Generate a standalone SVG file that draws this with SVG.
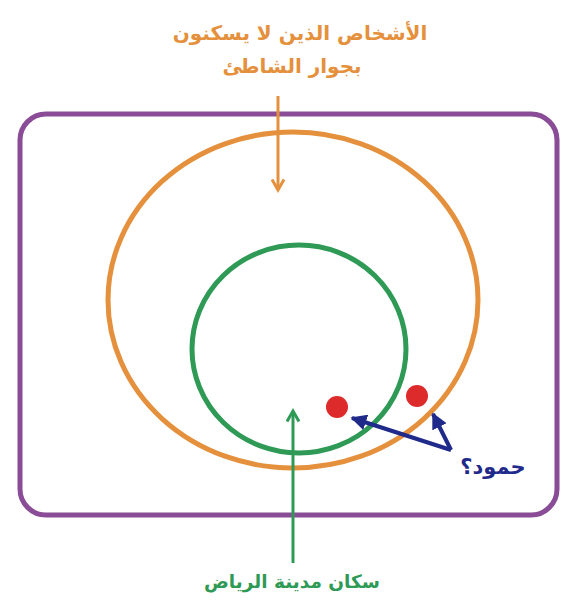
<svg xmlns="http://www.w3.org/2000/svg" width="567" height="602" viewBox="0 0 567 602">
<defs>
<style>
text{font-family:"DejaVu Sans","Noto Sans",sans-serif;font-weight:bold;text-anchor:middle}
.o{fill:#E5903C}
.g{fill:#2E9A55}
.b{fill:#1F2A8A}
</style>
<marker id="ao" viewBox="0 0 10 10" refX="8" refY="5" markerWidth="5" markerHeight="5" orient="auto"><path d="M1,1 L8,5 L1,9" fill="none" stroke="#E5903C" stroke-width="2"/></marker>
<marker id="ag" viewBox="0 0 10 10" refX="8" refY="5" markerWidth="5" markerHeight="5" orient="auto"><path d="M1,1 L8,5 L1,9" fill="none" stroke="#2E9A55" stroke-width="2"/></marker>
<marker id="ab" viewBox="0 0 10 10" refX="9" refY="5" markerWidth="4" markerHeight="4" orient="auto"><path d="M0,0 L10,5 L0,10 z" fill="#1F2A8A"/></marker>
</defs>
<rect width="567" height="602" fill="#fff"/>
<g id="universe"><rect x="20" y="114" width="537" height="401" rx="26" fill="none" stroke="#8A4C96" stroke-width="5"/></g>
<g id="not-beach"><ellipse cx="293" cy="300" rx="185" ry="168" fill="none" stroke="#E5903C" stroke-width="5"/></g>
<g id="riyadh"><ellipse cx="299" cy="349" rx="107" ry="104" fill="none" stroke="#2E9A55" stroke-width="5"/></g>
<g id="dots">
<circle cx="337" cy="407" r="11" fill="#DD2A2A"/>
<circle cx="417" cy="396" r="11" fill="#DD2A2A"/>
</g>
<g id="connectors">
<line x1="278" y1="96" x2="278" y2="190" stroke="#E5903C" stroke-width="3" marker-end="url(#ao)"/>
<line x1="293" y1="563" x2="293" y2="411" stroke="#2E9A55" stroke-width="3" marker-end="url(#ag)"/>
<line x1="451" y1="450" x2="352" y2="418" stroke="#1F2A8A" stroke-width="4" marker-end="url(#ab)"/>
<line x1="451" y1="450" x2="433" y2="414" stroke="#1F2A8A" stroke-width="4" marker-end="url(#ab)"/>
</g>
<g id="labels">
<text class="o" x="300" y="40" font-size="20">الأشخاص الذين لا يسكنون</text>
<text class="o" x="292" y="73" font-size="20">بجوار الشاطئ</text>
<text class="g" x="292" y="588" font-size="18.5">سكان مدينة الرياض</text>
<text class="b" x="493" y="474" font-size="21">حمود؟</text>
</g>
</svg>
